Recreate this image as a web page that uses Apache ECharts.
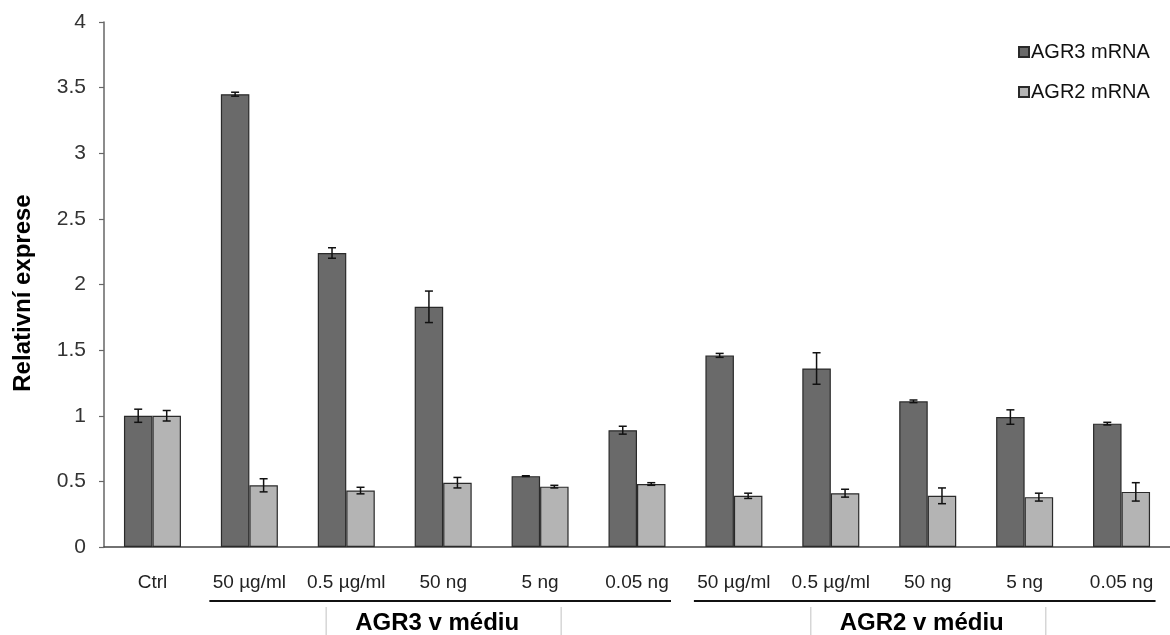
<!DOCTYPE html>
<html>
<head>
<meta charset="utf-8">
<script src="https://cdn.jsdelivr.net/npm/echarts@6/dist/echarts.min.js"></script>
<style>
html,body{margin:0;padding:0;background:#fff;}
#chart{width:1170px;height:635px;}
</style>
</head>
<body>
<div id="chart"></div>
<script>
const categories = ['Ctrl', '50 µg/ml', '0.5 µg/ml', '50 ng', '5 ng', '0.05 ng', '50 µg/ml', '0.5 µg/ml', '50 ng', '5 ng', '0.05 ng'];
const agr3Values = [1.00, 3.45, 2.24, 1.83, 0.54, 0.89, 1.46, 1.36, 1.11, 0.99, 0.94];
const agr3Errors = [0.05, 0.015, 0.04, 0.12, 0.003, 0.03, 0.015, 0.12, 0.01, 0.055, 0.01];
const agr2Values = [1.00, 0.47, 0.43, 0.49, 0.46, 0.48, 0.39, 0.41, 0.39, 0.38, 0.42];
const agr2Errors = [0.04, 0.05, 0.025, 0.04, 0.01, 0.01, 0.02, 0.03, 0.06, 0.03, 0.07];
const yTicks = ['0', '0.5', '1', '1.5', '2', '2.5', '3', '3.5', '4'];
const groups = [
  { name: 'AGR3 v médiu', from: 1, to: 5 },
  { name: 'AGR2 v médiu', from: 6, to: 10 }
];

const FONT = 'Liberation Sans, Arial, Helvetica, sans-serif';
const BAR_W = 28.5;

const chart = echarts.init(document.getElementById('chart'), null, { renderer: 'canvas' });

function errorSeries(name, values, errors, side) {
  return {
    type: 'custom',
    name: name + ' err',
    z: 5,
    silent: true,
    data: values.map((v, i) => [i, v, errors[i]]),
    renderItem: function (params, api) {
      const i = api.value(0), v = api.value(1), e = api.value(2);
      const top = api.coord([i, v + e]);
      const bot = api.coord([i, v - e]);
      const x = top[0] + side * BAR_W / 2;
      const cap = 4;
      const style = { stroke: '#111', lineWidth: 1.5 };
      return {
        type: 'group',
        children: [
          { type: 'line', shape: { x1: x, y1: top[1], x2: x, y2: bot[1] }, style },
          { type: 'line', shape: { x1: x - cap, y1: top[1], x2: x + cap, y2: top[1] }, style },
          { type: 'line', shape: { x1: x - cap, y1: bot[1], x2: x + cap, y2: bot[1] }, style }
        ]
      };
    }
  };
}

chart.setOption({
  animation: false,
  backgroundColor: '#fff',
  textStyle: { fontFamily: FONT },
  grid: { left: 104, right: -10, top: 22, bottom: 88, containLabel: false },
  legend: {
    orient: 'vertical',
    left: 1013,
    top: 37,
    padding: 5,
    itemWidth: 10,
    itemHeight: 10,
    itemGap: 20,
    icon: 'rect',
    textStyle: { fontSize: 20, color: '#111', fontFamily: FONT, padding: [0, 0, 0, -3] },
    data: ['AGR3 mRNA', 'AGR2 mRNA']
  },
  xAxis: {
    type: 'category',
    data: categories,
    boundaryGap: true,
    axisLine: { lineStyle: { color: '#444', width: 1.5 } },
    axisTick: { show: false },
    axisLabel: { fontSize: 19, color: '#222', margin: 26, interval: 0, fontFamily: FONT }
  },
  yAxis: {
    type: 'value',
    min: 0,
    max: 4,
    interval: 0.5,
    splitLine: { show: false },
    axisLine: { show: true, lineStyle: { color: '#666', width: 1.5 } },
    axisTick: { show: true, length: 5, lineStyle: { color: '#666', width: 1.2 } },
    axisLabel: {
      fontSize: 21, color: '#333', margin: 18, fontFamily: FONT,
      formatter: function (v) { return yTicks[Math.round(v / 0.5)]; }
    }
  },
  series: [
    {
      name: 'AGR3 mRNA', type: 'bar', data: agr3Values,
      barWidth: BAR_W, barGap: '0%',
      itemStyle: { color: '#6a6a6a', borderColor: '#2a2a2a', borderWidth: 1.2 }
    },
    {
      name: 'AGR2 mRNA', type: 'bar', data: agr2Values,
      barWidth: BAR_W, barGap: '0%',
      itemStyle: { color: '#b4b4b4', borderColor: '#2a2a2a', borderWidth: 1.2 }
    },
    errorSeries('AGR3 mRNA', agr3Values, agr3Errors, -1),
    errorSeries('AGR2 mRNA', agr2Values, agr2Errors, 1)
  ]
});

// Group brackets and titles positioned from the category axis
const graphics = [];
groups.forEach(function (g) {
  const x1 = chart.convertToPixel({ xAxisIndex: 0 }, g.from);
  const x2 = chart.convertToPixel({ xAxisIndex: 0 }, g.to);
  const mid = (x1 + x2) / 2;
  graphics.push({ type: 'line', shape: { x1: x1 - 40, y1: 601, x2: x2 + 34, y2: 601 }, style: { stroke: '#111', lineWidth: 2 } });
  graphics.push({ type: 'line', shape: { x1: mid - 117, y1: 607, x2: mid - 117, y2: 640 }, style: { stroke: '#d6d6d6', lineWidth: 1.5 } });
  graphics.push({ type: 'line', shape: { x1: mid + 118, y1: 607, x2: mid + 118, y2: 640 }, style: { stroke: '#d6d6d6', lineWidth: 1.5 } });
  graphics.push({
    type: 'text', x: mid - 6, y: 623,
    style: { text: g.name, font: 'bold 24px ' + FONT, fill: '#000', textAlign: 'center', textVerticalAlign: 'middle' }
  });
});
graphics.push({
  type: 'text', x: 23, y: 293, rotation: Math.PI / 2,
  style: { text: 'Relativní exprese', font: 'bold 24px ' + FONT, fill: '#000', textAlign: 'center', textVerticalAlign: 'middle' }
});
chart.setOption({ graphic: graphics });
</script>
</body>
</html>
